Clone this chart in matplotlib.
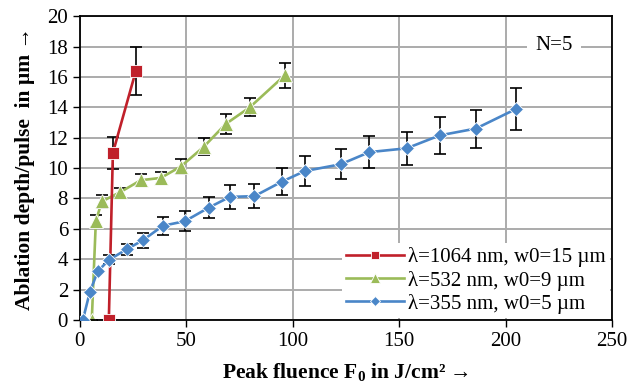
import matplotlib
matplotlib.use("Agg")
import matplotlib.pyplot as plt

plt.rcParams['font.family'] = ['Liberation Serif', 'DejaVu Serif']
plt.rcParams['mathtext.fontset'] = 'custom'
plt.rcParams['mathtext.rm'] = 'Liberation Serif'
plt.rcParams['mathtext.bf'] = 'Liberation Serif:bold'

# data
x_1064 = [13.6, 15.5, 26.3]
y_1064 = [0.0, 11.0, 16.4]
e_1064 = [0.0, 1.05, 1.6]

x_532 = [5.6, 7.5, 10.3, 18.8, 28.6, 38.0, 47.4, 58.2, 68.5, 79.8, 96.2]
y_532 = [0.0, 6.5, 7.8, 8.4, 9.2, 9.35, 10.1, 11.4, 12.9, 14.0, 16.1]
e_532 = [0.0, 0.4, 0.4, 0.3, 0.4, 0.4, 0.5, 0.55, 0.65, 0.6, 0.8]

x_355 = [1.4, 4.7, 8.4, 13.6, 22.0, 29.6, 39.0, 49.3, 60.6, 70.4, 82.0,
         94.8, 105.6, 122.5, 136.0, 153.5, 169.0, 186.0, 205.0]
y_355 = [0.0, 1.85, 3.2, 3.95, 4.65, 5.25, 6.2, 6.5, 7.4, 8.1, 8.15,
         9.1, 9.8, 10.25, 11.05, 11.3, 12.15, 12.6, 13.9]
e_355 = [0.0, 0.0, 0.0, 0.3, 0.35, 0.5, 0.6, 0.65, 0.7, 0.8, 0.8,
         0.9, 1.0, 1.0, 1.05, 1.1, 1.2, 1.25, 1.4]

labels = ["λ=1064 nm, w0=15 µm", "λ=532 nm, w0=9 µm", "λ=355 nm, w0=5 µm"]
colors = ["#C0202A", "#9BBB59", "#4A86C8"]

fig = plt.figure(figsize=(6.39, 3.85), dpi=100)
ax = fig.add_axes([0.125, 0.169, 0.833, 0.789])

series = [(x_1064, y_1064, e_1064, 's', 8.5, 3),
          (x_532, y_532, e_532, '^', 9.5, 2),
          (x_355, y_355, e_355, 'D', 7.5, 4)]
for (xs, ys, es, mk, ms, z), lab, col in zip(series, labels, colors):
    ax.errorbar(xs, ys, yerr=es, fmt='none', ecolor='black', elinewidth=1.2,
                capsize=4.5, capthick=1.2, zorder=z)
    ax.plot(xs, ys, color=col, lw=1.9, marker=mk, markersize=ms,
            markeredgecolor='white', markeredgewidth=0.6, label=lab, zorder=z + 0.5)

ax.set_xlim(0, 250)
ax.set_ylim(0, 20)
ax.set_xticks(range(0, 251, 50))
ax.set_yticks(range(0, 21, 2))
ax.grid(True, color='#ababab', lw=1.4)
ax.set_axisbelow(True)
ax.tick_params(labelsize=15, length=5, width=1, direction='out')
for sp in ax.spines.values():
    sp.set_linewidth(1.3)
    sp.set_color('black')

ax.set_xlabel(r'Peak fluence F$_\mathbf{0}$ in J/cm² →', fontsize=15.5,
              fontweight='bold', labelpad=8)
ax.set_ylabel('Ablation depth/pulse  in µm →', fontsize=15.5,
              fontweight='bold', labelpad=9)

ax.text(0.89, 0.905, 'N=5', transform=ax.transAxes, fontsize=15,
        ha='center', va='center', zorder=6,
        bbox=dict(facecolor='white', edgecolor='none', pad=6))

leg = ax.legend(loc='lower right', fontsize=15, frameon=True, fancybox=False,
                handlelength=2.8, handletextpad=0.2, labelspacing=0.15,
                borderpad=0.2, borderaxespad=0.1, markerscale=0.7)
leg.get_frame().set_edgecolor('none')
leg.get_frame().set_facecolor('white')
leg.get_frame().set_alpha(1)
leg.set_zorder(7)

fig.savefig("out.png", dpi=100)
